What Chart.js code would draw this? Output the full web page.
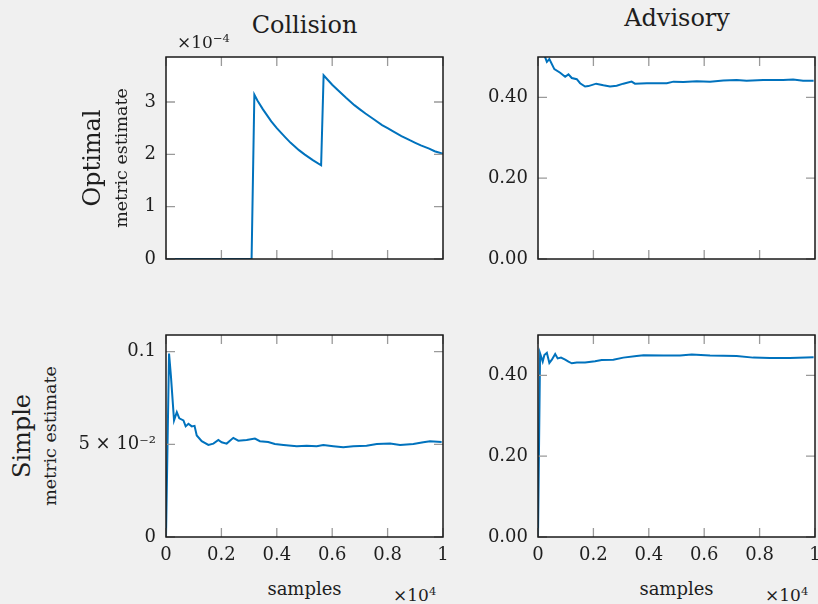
<!DOCTYPE html>
<html>
<head>
<meta charset="utf-8">
<script src="https://cdn.jsdelivr.net/npm/chart.js@4"></script>
<style>
  body { margin: 0; background: #f0f0f0; width: 818px; height: 604px; overflow: hidden; position: relative; font-family: "DejaVu Serif", serif; color: #1e1e1e; }
  canvas { position: absolute; }
  .lbl { position: absolute; white-space: nowrap; line-height: 1; }
  .lbl sup { font-size: 0.68em; line-height: 0; vertical-align: 0.55em; }
</style>
</head>
<body>
<canvas id="c1"></canvas>
<canvas id="c2"></canvas>
<canvas id="c3"></canvas>
<canvas id="c4"></canvas>
<script>
// x axis: samples (x10^4)
const xTicks = [0, 0.2, 0.4, 0.6, 0.8, 1];
const xTickLabels = ["0", "0.2", "0.4", "0.6", "0.8", "1"];

// Optimal / Collision (values x10^-4)
const optColX = [0, 0.309, 0.319, 0.33, 0.35, 0.38, 0.40, 0.43, 0.45, 0.48, 0.50, 0.53, 0.56, 0.569, 0.60, 0.62, 0.65, 0.68, 0.70, 0.72, 0.75, 0.78, 0.80, 0.82, 0.85, 0.88, 0.90, 0.92, 0.95, 0.97, 1.0];
const optColY = [0, 0, 3.14, 3.03, 2.86, 2.63, 2.50, 2.33, 2.22, 2.08, 2.00, 1.89, 1.79, 3.51, 3.33, 3.23, 3.08, 2.94, 2.86, 2.78, 2.67, 2.56, 2.50, 2.44, 2.35, 2.27, 2.22, 2.17, 2.11, 2.06, 2.01];
const optColTicks = [0, 1, 2, 3];
const optColTickLabels = ["0", "1", "2", "3"];

// Optimal / Advisory
const optAdvX = [0.02, 0.026, 0.032, 0.041, 0.059, 0.080, 0.098, 0.11, 0.122, 0.140, 0.152, 0.170, 0.182, 0.210, 0.236, 0.260, 0.284, 0.308, 0.338, 0.350, 0.393, 0.465, 0.489, 0.525, 0.573, 0.621, 0.669, 0.717, 0.753, 0.813, 0.885, 0.921, 0.957, 0.995];
const optAdvY = [0.52, 0.499, 0.488, 0.495, 0.470, 0.461, 0.451, 0.457, 0.448, 0.445, 0.435, 0.427, 0.428, 0.434, 0.430, 0.427, 0.429, 0.434, 0.439, 0.434, 0.435, 0.435, 0.439, 0.438, 0.440, 0.439, 0.442, 0.443, 0.441, 0.443, 0.443, 0.444, 0.441, 0.441];

// Simple / Collision
const simColX = [0, 0.011, 0.018, 0.029, 0.039, 0.048, 0.063, 0.071, 0.081, 0.093, 0.103, 0.111, 0.129, 0.153, 0.171, 0.189, 0.201, 0.219, 0.243, 0.261, 0.291, 0.321, 0.339, 0.369, 0.393, 0.424, 0.472, 0.508, 0.544, 0.568, 0.604, 0.640, 0.676, 0.724, 0.761, 0.809, 0.845, 0.893, 0.929, 0.953, 0.995];
const simColY = [0, 0.099, 0.0864, 0.0629, 0.0674, 0.064, 0.0629, 0.0597, 0.0611, 0.0597, 0.060, 0.0548, 0.0517, 0.0497, 0.0504, 0.0524, 0.0511, 0.0504, 0.0535, 0.052, 0.0524, 0.0531, 0.0517, 0.0513, 0.0502, 0.0497, 0.049, 0.0493, 0.049, 0.0496, 0.049, 0.0484, 0.049, 0.0493, 0.0502, 0.0504, 0.0497, 0.0502, 0.0511, 0.0517, 0.0513];
const simColTicks = [0, 0.05, 0.1];
const simColTickLabels = ["0", "5 \u00d7 10\u207b\u00b2", "0.1"];

// Simple / Advisory
const simAdvX = [0, 0.0075, 0.017, 0.023, 0.032, 0.041, 0.05, 0.062, 0.071, 0.083, 0.098, 0.110, 0.122, 0.140, 0.170, 0.206, 0.230, 0.272, 0.308, 0.356, 0.381, 0.453, 0.513, 0.555, 0.621, 0.717, 0.777, 0.837, 0.909, 0.995];
const simAdvY = [0, 0.4545, 0.434, 0.4504, 0.456, 0.431, 0.439, 0.453, 0.442, 0.444, 0.439, 0.434, 0.430, 0.432, 0.432, 0.435, 0.438, 0.439, 0.444, 0.448, 0.450, 0.449, 0.449, 0.452, 0.449, 0.448, 0.444, 0.443, 0.443, 0.445];

const advTicks = [0, 0.2, 0.4];
const advTickLabels = ["0.00", "0.20", "0.40"];

const BLUE = "#0072bd";
const FONT = { family: "DejaVu Serif", size: 18 };

// white plot area, inward tick marks on all sides, black frame
const framePlugin = {
  id: "frame",
  beforeDraw(chart) {
    const a = chart.chartArea, ctx = chart.ctx;
    ctx.save();
    ctx.fillStyle = "#fff";
    ctx.fillRect(a.left, a.top, a.right - a.left, a.bottom - a.top);
    ctx.restore();
  },
  afterDraw(chart) {
    const a = chart.chartArea, ctx = chart.ctx;
    const tl = 9;
    ctx.save();
    ctx.strokeStyle = "#9a9a9a";
    ctx.lineWidth = 1.3;
    ctx.beginPath();
    chart.scales.x.ticks.forEach(t => {
      const px = chart.scales.x.getPixelForValue(t.value);
      ctx.moveTo(px, a.bottom); ctx.lineTo(px, a.bottom - tl);
      ctx.moveTo(px, a.top); ctx.lineTo(px, a.top + tl);
    });
    chart.scales.y.ticks.forEach(t => {
      const py = chart.scales.y.getPixelForValue(t.value);
      ctx.moveTo(a.left, py); ctx.lineTo(a.left + tl, py);
      ctx.moveTo(a.right, py); ctx.lineTo(a.right - tl, py);
    });
    ctx.stroke();
    ctx.strokeStyle = "#1a1a1a";
    ctx.lineWidth = 1.5;
    ctx.strokeRect(a.left, a.top, a.right - a.left, a.bottom - a.top);
    ctx.restore();
  }
};

function makeChart(id, c) {
  const el = document.getElementById(id);
  el.width = c.w; el.height = c.h;
  el.style.left = c.left + "px"; el.style.top = c.top + "px";
  const points = c.xs.map((x, i) => ({ x: x, y: c.ys[i] }));
  return new Chart(el, {
    type: "line",
    data: { datasets: [{ data: points, borderColor: BLUE, borderWidth: 2, pointRadius: 0, tension: 0, clip: 0 }] },
    options: {
      responsive: false,
      animation: false,
      layout: { padding: { top: 10, right: c.padRight, left: 0, bottom: 0 } },
      plugins: { legend: { display: false }, tooltip: { enabled: false } },
      scales: {
        x: {
          type: "linear", min: 0, max: 1,
          afterBuildTicks: s => { s.ticks = xTicks.map(v => ({ value: v })); },
          afterFit: s => { s.height = c.xh; s.paddingLeft = 0; s.paddingRight = 0; },
          grid: { display: false, drawTicks: false },
          border: { display: false },
          ticks: {
            display: c.showX, padding: 8, color: "#1e1e1e", font: FONT, maxRotation: 0,
            callback: (v, i) => xTickLabels[i]
          }
        },
        y: {
          type: "linear", min: 0, max: c.ymax,
          afterBuildTicks: s => { s.ticks = c.yTicks.map(v => ({ value: v })); },
          afterFit: s => { s.width = c.yw; s.paddingTop = 0; s.paddingBottom = 0; },
          grid: { display: false, drawTicks: false },
          border: { display: false },
          ticks: {
            padding: 10, color: "#1e1e1e", font: FONT,
            callback: (v, i) => c.yLabels[i]
          }
        }
      }
    },
    plugins: [framePlugin]
  });
}

// left column plot: x 166..443, right column: 538..815
// top row plot: y 57..259, bottom row: 335..537
makeChart("c1", { left: 66, top: 47, w: 383, h: 222, yw: 100, xh: 10, padRight: 6, showX: false,
  xs: optColX, ys: optColY, ymax: 3.86, yTicks: optColTicks, yLabels: optColTickLabels });
makeChart("c2", { left: 448, top: 47, w: 370, h: 222, yw: 90, xh: 10, padRight: 3, showX: false,
  xs: optAdvX, ys: optAdvY, ymax: 0.5, yTicks: advTicks, yLabels: advTickLabels });
makeChart("c3", { left: 66, top: 325, w: 383, h: 242, yw: 100, xh: 30, padRight: 6, showX: true,
  xs: simColX, ys: simColY, ymax: 0.109, yTicks: simColTicks, yLabels: simColTickLabels });
makeChart("c4", { left: 448, top: 325, w: 370, h: 242, yw: 90, xh: 30, padRight: 3, showX: true,
  xs: simAdvX, ys: simAdvY, ymax: 0.5, yTicks: advTicks, yLabels: advTickLabels });

// text labels, positioned by baseline (DejaVu Serif baseline at 0.846em with line-height 1)
function label(html, x, base, size, opts) {
  const d = document.createElement("div");
  d.className = "lbl";
  d.innerHTML = html;
  d.style.fontSize = size + "px";
  if (opts && opts.rot) {
    d.style.left = (base - 0.846 * size) + "px";
    d.style.top = x + "px";
    d.style.transformOrigin = "0 0";
    d.style.transform = "rotate(-90deg) translateX(-50%)";
  } else {
    d.style.left = x + "px";
    d.style.top = (base - 0.846 * size) + "px";
    if (!(opts && opts.leftAlign)) d.style.transform = "translateX(-50%)";
  }
  document.body.appendChild(d);
}

label("Collision", 304.5, 33, 24);
label("Advisory", 677, 26, 24);
label("\u00d710<sup>\u22124</sup>", 177, 48, 17, { leftAlign: true });
label("Optimal", 158, 100, 24, { rot: true });
label("metric estimate", 158, 128, 17.5, { rot: true });
label("Simple", 436, 30, 24, { rot: true });
label("metric estimate", 436, 57, 17.5, { rot: true });
label("samples", 304.5, 595, 18);
label("samples", 676.5, 595, 18);
label("\u00d710<sup>4</sup>", 393, 601, 17, { leftAlign: true });
label("\u00d710<sup>4</sup>", 765, 601, 17, { leftAlign: true });
</script>
</body>
</html>
